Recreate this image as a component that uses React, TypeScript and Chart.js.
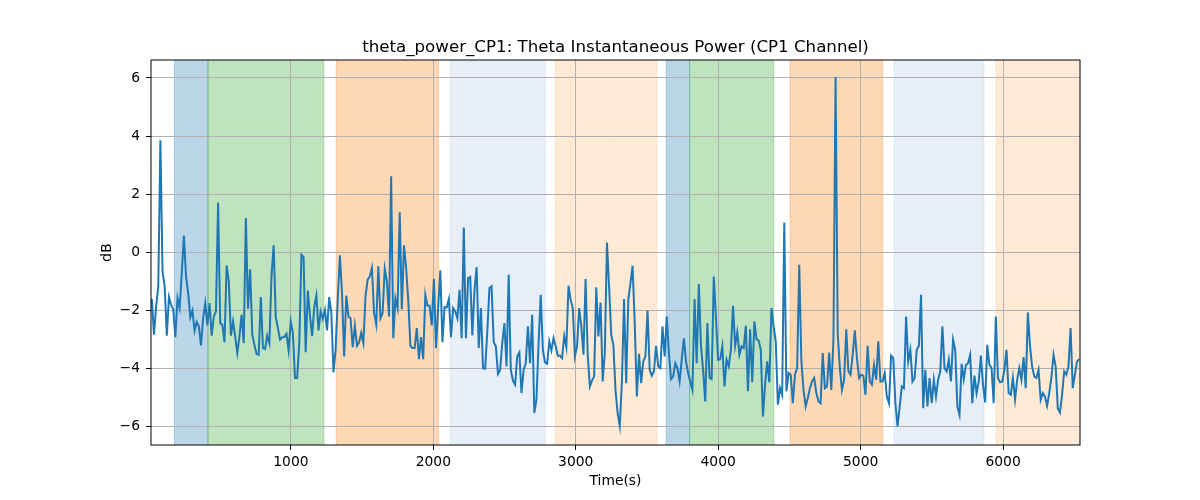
import React, { useEffect, useRef } from "react";
import { Chart, Plugin, registerables } from "chart.js";

Chart.register(...registerables);

// sampling grid of the power trace (seconds)
const START_TIME = 24;
const STEP = 15;

const powerDb = [
  -1.62, -2.85, -1.87, -1.18, 3.85, -0.67, -1.18, -2.88, -1.55, -1.82,
  -1.97, -2.93, -1.59, -1.93, -0.72, 0.57, -0.84, -1.41, -2.25, -2.01,
  -2.71, -2.41, -2.56, -3.22, -2.28, -1.76, -2.53, -1.76, -2.88, -2.22,
  -2.05, 1.71, -2.45, -2.51, -3.11, -0.46, -1.01, -2.88, -2.39, -2.91,
  -3.48, -2.91, -2.16, -3.14, 1.17, -1.95, -0.59, -2.85, -3.2, -3.51,
  -3.54, -1.55, -3.31, -3.34, -2.88, -3.14, -0.82, 0.23, -2.25, -2.62,
  -3.02, -2.94, -2.93, -2.82, -3.39, -2.39, -2.79, -4.34, -4.34, -3.14,
  -0.09, -0.17, -3.45, -1.33,
  -2.2, -2.9, -1.9, -1.5, -2.7, -2.05, -2.3, -2.0, -2.7, -1.55,
  -2.1, -4.15, -3.37, -1.64, -0.11, -1.41, -3.6, -1.5, -2.22, -2.28,
  -3.28, -2.54, -3.23, -3.11, -2.79, -3.14, -1.53, -0.95, -0.84, -0.55,
  -2.1, -2.5, -0.49, -2.28, -2.1, -0.57, -1.01, -2.22, 2.61, -2.97,
  -1.59, -1.93, 1.37, -1.97, 0.23, -0.55, -1.64, -3.23, -3.31, -3.31,
  -2.62, -3.69, -2.93, -3.69, -1.47, -1.85, -1.85, -2.53, -0.92, -3.31,
  -1.93, -0.63, -3.11, -1.9, -1.91, -1.62, -2.93, -1.93, -2.05, -2.28,
  -1.3, -2.97, 0.85, -2.97, -0.9,
  -0.86, -2.87, -1.3, -0.52, -3.31, -1.93, -4.0, -4.02, -2.74, -1.24,
  -1.18, -3.11, -3.25, -4.2, -4.06, -3.14, -2.45, -3.94, -0.78, -4.06,
  -4.43, -4.57, -3.6, -3.46, -4.86, -4.06, -3.83, -2.56, -3.83, -2.16,
  -5.55, -5.09, -3.14, -1.47, -3.37, -3.8, -3.85, -3.08, -3.39, -2.97,
  -3.25, -3.57, -3.57, -3.66, -2.89, -3.28, -1.16, -1.64, -1.93, -3.6,
  -3.25, -1.93, -2.56, -3.54, -0.93, -3.54, -4.63, -4.43, -4.29, -1.21,
  -2.91, -1.74, -4.46, -3.48, 0.33, -1.18, -2.85, -3.2, -4.75, -5.55,
  -5.99, -4.46, -1.62, -4.52, -1.64,
  -1.07, -0.47, -2.45, -4.98, -3.51, -4.52, -3.77, -3.6, -2.01, -4.06,
  -4.26, -4.11, -3.23, -3.94, -4.0, -2.56, -3.6, -2.22, -3.48, -4.38,
  -4.29, -3.83, -4.0, -4.46, -3.71, -2.97, -3.77, -4.17, -4.46, -4.75,
  -1.62, -3.83, -1.1, -3.23, -4.06, -5.15, -2.45, -4.34, -4.38, -0.84,
  -2.22, -3.71, -3.69, -3.25, -4.63, -3.71, -3.94, -3.37, -1.85, -3.23,
  -2.77, -3.54, -3.25, -3.31, -2.54, -4.8, -2.66, -4.49, -2.39, -3.0,
  -3.05, -3.37, -5.67, -4.57, -3.77, -4.49, -1.93, -2.56, -3.08, -5.26,
  -4.69, -4.92, 1.02, -4.8, -4.17,
  -4.23, -5.21, -4.23, -4.0, -0.44, -3.77, -4.75, -5.32, -5.03, -4.69,
  -4.46, -4.34, -4.86, -5.15, -5.21, -3.48, -4.69, -4.63, -3.46, -4.75,
  -3.02, 6.03, -2.79, -4.0, -4.75, -4.4, -2.66, -4.11, -4.23, -3.54,
  -2.7, -3.66, -4.34, -4.23, -4.26, -4.92, -3.23, -4.46, -4.57, -3.89,
  -4.4, -3.08, -4.46, -4.46, -4.17, -4.98, -5.21, -3.57, -3.66, -5.21,
  -6.01, -5.32, -4.63, -4.69, -2.22, -3.77, -3.37, -4.46, -4.34, -3.37,
  -3.23, -1.47, -5.38, -4.06, -5.32, -4.34, -5.21, -4.4, -4.98, -4.4,
  -4.11,
  -2.56, -4.0, -4.11, -3.71, -4.46, -3.02, -3.37, -5.32, -5.61, -3.85,
  -4.38, -3.89, -3.83, -3.54, -5.21, -4.26, -4.86, -4.46, -3.57, -4.57,
  -5.18, -3.2, -3.89, -4.0, -5.21, -2.22, -4.34, -4.49, -4.46, -4.06,
  -3.37, -4.86, -4.92, -4.34, -5.09, -4.4, -4.0, -4.4, -3.62, -4.69,
  -2.08, -3.25, -3.94, -4.29, -4.34, -4.06, -5.09, -4.86, -4.98, -5.3,
  -4.86, -4.34, -3.54, -3.94, -5.38, -5.53, -4.92, -4.11, -4.23, -3.94,
  -2.62, -4.69, -4.23, -3.77, -3.69,
];

// shaded stages along the time axis
const spanStarts = [182, 418, 1318, 2118, 2855, 3635, 3799, 4504, 5234, 5950];
const spanEnds = [418, 1232, 2036, 2785, 3569, 3799, 4390, 5155, 5866, 6600];
const spanKinds = [
  "blue", "green", "orange", "lightblue", "lightorange",
  "blue", "green", "orange", "lightblue", "lightorange",
];

const xTicks = [1000, 2000, 3000, 4000, 5000, 6000];
const yTicks = [-6, -4, -2, 0, 2, 4, 6];

const X_MIN = 18;
const X_MAX = 6540;
const Y_MIN = -6.65;
const Y_MAX = 6.62;

const spanColors: Record<string, string> = {
  blue: "rgba(31,119,180,0.3)",
  green: "rgba(44,160,44,0.3)",
  orange: "rgba(255,127,14,0.3)",
  lightblue: "rgba(174,199,232,0.3)",
  lightorange: "rgba(255,187,120,0.3)",
};

const FONT = "'DejaVu Sans', sans-serif";

const fmt = (v: number | string) => String(v).replace("-", "\u2212");

const decorPlugin: Plugin<"line"> = {
  id: "decor",
  beforeDraw(chart) {
    const { ctx, chartArea: a, scales } = chart;
    const x = scales.x;
    ctx.save();
    ctx.beginPath();
    ctx.rect(a.left, a.top, a.right - a.left, a.bottom - a.top);
    ctx.clip();
    spanStarts.forEach((s, i) => {
      const x0 = x.getPixelForValue(s);
      const x1 = x.getPixelForValue(spanEnds[i]);
      const c = spanColors[spanKinds[i]];
      ctx.fillStyle = c;
      ctx.fillRect(x0, a.top, x1 - x0, a.bottom - a.top);
      ctx.strokeStyle = c;
      ctx.lineWidth = 1;
      ctx.beginPath();
      ctx.moveTo(x0, a.top);
      ctx.lineTo(x0, a.bottom);
      ctx.moveTo(x1, a.top);
      ctx.lineTo(x1, a.bottom);
      ctx.stroke();
    });
    ctx.restore();
  },
  afterDraw(chart) {
    const { ctx, chartArea: a } = chart;
    ctx.save();
    ctx.strokeStyle = "#000";
    ctx.lineWidth = 1;
    ctx.strokeRect(a.left, a.top, a.right - a.left, a.bottom - a.top);

    ctx.fillStyle = "#000";
    ctx.textAlign = "center";
    ctx.textBaseline = "alphabetic";
    ctx.font = `16.67px ${FONT}`;
    ctx.fillText(
      "theta_power_CP1: Theta Instantaneous Power (CP1 Channel)",
      (a.left + a.right) / 2,
      52
    );
    ctx.textBaseline = "middle";
    ctx.font = `13.89px ${FONT}`;
    ctx.fillText("Time(s)", (a.left + a.right) / 2, 481);
    ctx.translate(107, (a.top + a.bottom) / 2);
    ctx.rotate(-Math.PI / 2);
    ctx.fillText("dB", 0, 0);
    ctx.restore();
  },
};

const App: React.FC = () => {
  const canvasRef = useRef<HTMLCanvasElement | null>(null);

  useEffect(() => {
    document.body.style.margin = "0";
    if (!canvasRef.current) return;
    const ctx = canvasRef.current.getContext("2d");
    if (!ctx) return;

    const points = powerDb.map((v, i) => ({ x: START_TIME + i * STEP, y: v }));

    const chart = new Chart(ctx, {
      type: "line",
      data: {
        datasets: [
          {
            data: points,
            borderColor: "#1f77b4",
            borderWidth: 2,
            pointRadius: 0,
            tension: 0,
            fill: false,
          },
        ],
      },
      options: {
        animation: false,
        responsive: true,
        maintainAspectRatio: false,
        layout: { padding: { top: 60, right: 120, bottom: 0, left: 0 } },
        plugins: {
          legend: { display: false },
          tooltip: { enabled: false },
        },
        scales: {
          x: {
            type: "linear",
            min: X_MIN,
            max: X_MAX,
            afterBuildTicks: (scale) => {
              scale.ticks = xTicks.map((v) => ({ value: v }));
            },
            afterFit: (scale) => {
              scale.height = 55;
            },
            grid: {
              color: "#b0b0b0",
              lineWidth: 1,
              drawTicks: true,
              tickLength: 5,
              tickColor: "#000",
            },
            border: { display: false },
            ticks: {
              color: "#000",
              font: { family: FONT, size: 13.89 },
              padding: 4,
              maxRotation: 0,
              autoSkip: false,
              callback: (v) => fmt(v),
            },
          },
          y: {
            type: "linear",
            min: Y_MIN,
            max: Y_MAX,
            afterBuildTicks: (scale) => {
              scale.ticks = yTicks.map((v) => ({ value: v }));
            },
            afterFit: (scale) => {
              scale.width = 151;
            },
            grid: {
              color: "#b0b0b0",
              lineWidth: 1,
              drawTicks: true,
              tickLength: 5,
              tickColor: "#000",
            },
            border: { display: false },
            ticks: {
              color: "#000",
              font: { family: FONT, size: 13.89 },
              padding: 6,
              autoSkip: false,
              callback: (v) => fmt(v),
            },
          },
        },
      },
      plugins: [decorPlugin],
    });

    return () => {
      chart.destroy();
    };
  }, []);

  return (
    <div style={{ width: 1200, height: 500, position: "relative" }}>
      <canvas ref={canvasRef}></canvas>
    </div>
  );
};

export default App;
